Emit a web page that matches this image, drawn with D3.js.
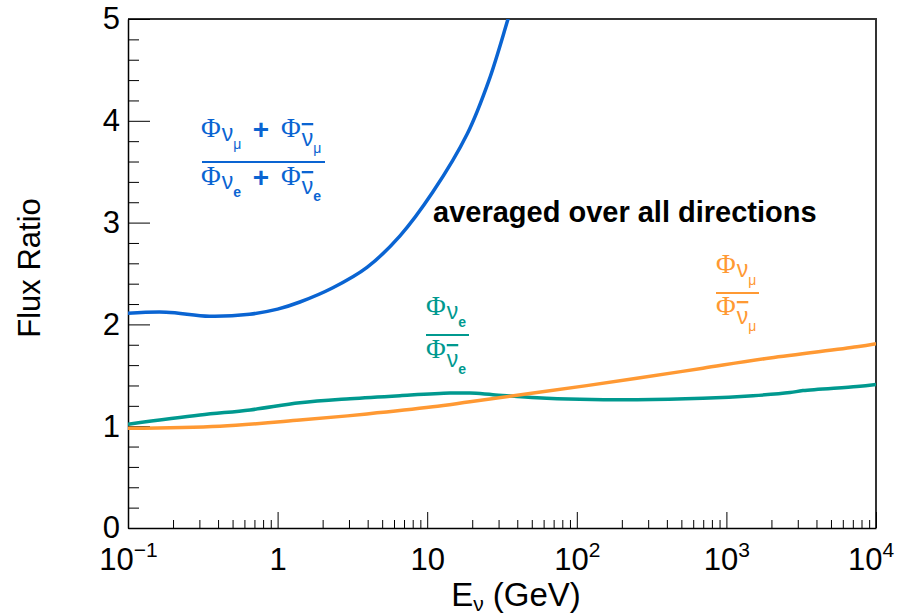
<!DOCTYPE html>
<html>
<head>
<meta charset="utf-8">
<script src="https://cdn.jsdelivr.net/npm/d3@7"></script>
<style>
  body { margin: 0; background: #fff; }
  text { font-family: "Liberation Sans", Arial, sans-serif; }
</style>
</head>
<body>
<div class="vis-flux"></div>
<script>
// (nu_mu + nubar_mu) / (nu_e + nubar_e)
const sumEnergy = [0.1, 0.18, 0.35, 0.65, 1.0, 1.41, 2.34, 3.96, 6.58, 10.9, 18.5, 25.9, 34.7, 40];
const sumRatio = [2.11, 2.12, 2.08, 2.1, 2.15, 2.22, 2.36, 2.56, 2.87, 3.3, 3.87, 4.4, 5.0, 5.3];

// nu_e / nubar_e
const nueEnergy = [0.1, 0.303, 0.654, 1.41, 3.05, 6.58, 14.2, 19.3, 27.5, 54.2, 105, 252, 697, 1506, 2662, 3250, 7460, 10000];
const nueRatio = [1.02, 1.11, 1.16, 1.23, 1.27, 1.3, 1.325, 1.325, 1.31, 1.28, 1.265, 1.26, 1.275, 1.3, 1.33, 1.35, 1.39, 1.41];

// nu_mu / nubar_mu
const numuEnergy = [0.1, 0.412, 1.41, 3.96, 10.9, 19.3, 54.2, 252, 697, 1955, 7460, 10000];
const numuRatio = [0.98, 1.0, 1.06, 1.12, 1.19, 1.24, 1.33, 1.47, 1.57, 1.67, 1.78, 1.81];

const xMajor = [0.1, 1, 10, 100, 1000, 10000];
const xTickBase = ["10", "1", "10", "10", "10", "10"];
const xTickExp = ["\u22121", "", "", "2", "3", "4"];
const yMajor = [0, 1, 2, 3, 4, 5];

const width = 899;
const height = 616;
const margin = { top: 19, right: 23, bottom: 88, left: 128 };
const blue = "#0a64d2";
const teal = "#00998f";
const orange = "#ff9933";

const x = d3.scaleLog().domain([0.1, 10000]).range([margin.left, width - margin.right]);
const y = d3.scaleLinear().domain([0, 5]).range([height - margin.bottom, margin.top]);

const xMinor = [];
xMajor.slice(0, -1).forEach((d) => {
	for (let k = 2; k <= 9; k++) xMinor.push(d * k);
});
const yMinor = d3.range(0, 5.001, 0.2).filter((d) => Math.abs(d - Math.round(d)) > 1e-6);

const svg = d3.create("svg").attr("width", width).attr("height", height);
d3.select(".vis-flux").append(() => svg.node());

svg.append("defs").append("clipPath").attr("id", "plot-clip")
	.append("rect")
	.attr("x", margin.left).attr("y", margin.top)
	.attr("width", width - margin.left - margin.right)
	.attr("height", height - margin.top - margin.bottom);

// frame top / right
svg.append("path")
	.attr("d", `M${margin.left},${margin.top}H${width - margin.right}V${height - margin.bottom}`)
	.attr("fill", "none").attr("stroke", "#333").attr("stroke-width", 2);

// minor ticks
svg.append("g")
	.attr("transform", `translate(${margin.left},0)`)
	.call(d3.axisLeft(y).tickValues(yMinor).tickSizeInner(-11).tickSizeOuter(0).tickFormat(""))
	.call((g) => g.select(".domain").remove());
svg.append("g")
	.attr("transform", `translate(0,${height - margin.bottom})`)
	.call(d3.axisBottom(x).tickValues(xMinor).tickSizeInner(-8).tickSizeOuter(0).tickFormat(""))
	.call((g) => g.select(".domain").remove());

// major y axis
svg.append("g")
	.attr("transform", `translate(${margin.left},0)`)
	.call(d3.axisLeft(y).tickValues(yMajor).tickSizeInner(-22).tickSizeOuter(0).tickPadding(8).tickFormat(d3.format("d")))
	.call((g) => g.selectAll(".tick text").attr("font-size", 31).attr("font-family", "Liberation Sans").attr("fill", "#000"))
	.call((g) => g.select(".domain").attr("stroke-width", 1.5));

// major x axis
const xAxis = svg.append("g")
	.attr("transform", `translate(0,${height - margin.bottom})`)
	.call(d3.axisBottom(x).tickValues(xMajor).tickSizeInner(-16).tickSizeOuter(0).tickFormat(""))
	.call((g) => g.select(".domain").attr("stroke-width", 1.5));
xAxis.selectAll(".tick text")
	.attr("y", 42).attr("dy", null)
	.attr("font-size", 31).attr("font-family", "Liberation Sans").attr("fill", "#000")
	.each(function (d, i) {
		const t = d3.select(this);
		t.append("tspan").text(xTickBase[i]);
		if (xTickExp[i]) t.append("tspan").attr("font-size", 21).attr("dy", -13).text(xTickExp[i]);
		const box = this.getBBox();
		const right = x(d) + box.x + box.width;
		if (right > width - 5) t.attr("x", width - 5 - right);
	});

// axis titles
svg.append("text")
	.attr("transform", `translate(40,268) rotate(-90)`)
	.attr("text-anchor", "middle").attr("font-size", 31)
	.text("Flux Ratio");
const xt = svg.append("text")
	.attr("x", 516).attr("y", 606)
	.attr("text-anchor", "middle").attr("font-size", 33);
xt.append("tspan").text("E");
xt.append("tspan").attr("font-size", 21).attr("dy", 5).text("\u03bd");
xt.append("tspan").attr("dy", -5).text(" (GeV)");

// curves
const line = d3.line()
	.x((d) => x(d[0]))
	.y((d) => y(d[1]))
	.curve(d3.curveCatmullRom.alpha(0.5));
const curves = [
	{ e: sumEnergy, r: sumRatio, color: blue },
	{ e: nueEnergy, r: nueRatio, color: teal },
	{ e: numuEnergy, r: numuRatio, color: orange },
];
svg.append("g").attr("clip-path", "url(#plot-clip)")
	.selectAll("path")
	.data(curves)
	.join("path")
	.attr("fill", "none")
	.attr("stroke", (d) => d.color)
	.attr("stroke-width", 3.5)
	.attr("stroke-linejoin", "round")
	.attr("d", (d) => line(d.e.map((v, i) => [v, d.r[i]])));

// labels
const addTerm = (g, px, py, sub, bar, color) => {
	const t = g.append("text").attr("x", px).attr("y", py).attr("fill", color);
	t.append("tspan").attr("font-family", "Liberation Serif, serif").attr("font-size", 27).text("\u03a6");
	t.append("tspan").attr("font-size", 23).attr("dx", 1).attr("dy", bar ? 9 : 4)
		.style("text-decoration", bar ? "overline" : null).text("\u03bd");
	t.append("tspan").attr("font-size", 14).attr("font-weight", sub === "e" ? "bold" : "normal")
		.attr("dy", bar ? 7 : 8).text(sub);
};
const addPlus = (g, px, py, color) => {
	g.append("text").attr("x", px).attr("y", py).attr("fill", color)
		.attr("text-anchor", "middle").attr("font-size", 28).attr("font-weight", "bold").text("+");
};
const ann = svg.append("g");

// blue ratio
addTerm(ann, 201, 137, "\u03bc", false, blue);
addPlus(ann, 261, 139, blue);
addTerm(ann, 281, 137, "\u03bc", true, blue);
ann.append("line").attr("x1", 202).attr("x2", 325).attr("y1", 162).attr("y2", 162).attr("stroke", blue).attr("stroke-width", 2);
addTerm(ann, 201, 185, "e", false, blue);
addPlus(ann, 261, 187, blue);
addTerm(ann, 281, 185, "e", true, blue);

// teal ratio
addTerm(ann, 426, 315, "e", false, teal);
ann.append("line").attr("x1", 426).attr("x2", 469).attr("y1", 335).attr("y2", 335).attr("stroke", teal).attr("stroke-width", 2);
addTerm(ann, 426, 358, "e", true, teal);

// orange ratio
addTerm(ann, 716, 273, "\u03bc", false, orange);
ann.append("line").attr("x1", 716).attr("x2", 759).attr("y1", 293).attr("y2", 293).attr("stroke", orange).attr("stroke-width", 2);
addTerm(ann, 716, 315, "\u03bc", true, orange);

svg.append("text")
	.attr("x", 433).attr("y", 222)
	.attr("font-size", 29).attr("font-weight", "bold")
	.text("averaged over all directions");
</script>
</body>
</html>
